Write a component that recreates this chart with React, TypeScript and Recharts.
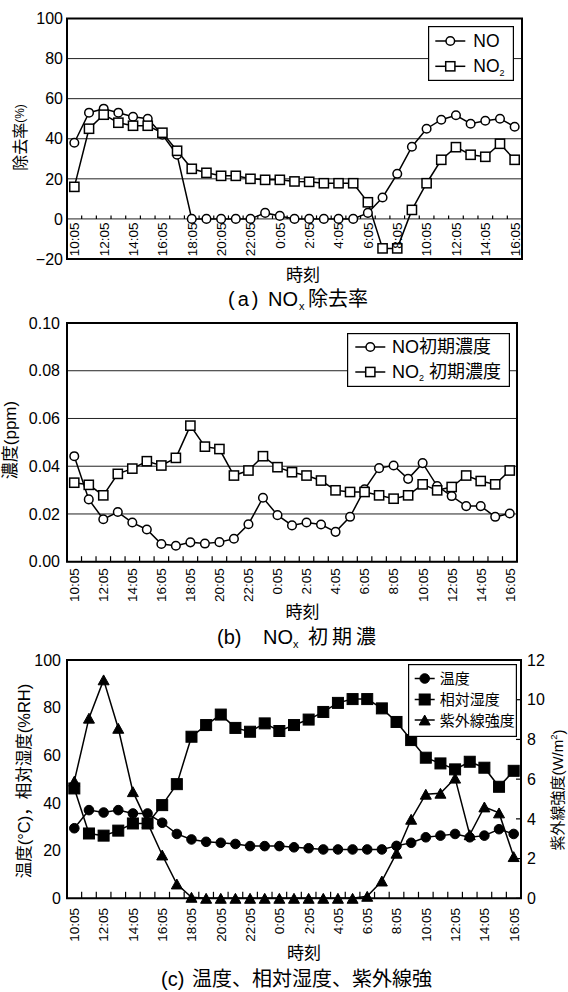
import React from 'react';
import { ComposedChart, Line, XAxis, YAxis, CartesianGrid, ReferenceArea, Legend } from 'recharts';

const FONT = "'Liberation Sans', Arial, 'Noto Sans CJK JP', sans-serif";

// hourly sampling times, 10:05 on day 1 to 16:05 on day 2
const timeLabels = [
  '10:05', '11:05', '12:05', '13:05', '14:05', '15:05', '16:05', '17:05', '18:05', '19:05',
  '20:05', '21:05', '22:05', '23:05', '0:05', '1:05', '2:05', '3:05', '4:05', '5:05',
  '6:05', '7:05', '8:05', '9:05', '10:05', '11:05', '12:05', '13:05', '14:05', '15:05', '16:05',
];

// (a) removal rate (%)
const noRemoval = [38, 53, 55, 53, 51, 50, 42, 32, 0, 0, 0, 0, 0, 3, 1.5, 0, 0, 0, 0, 0, 3, 10.7, 22.5, 36, 45, 49.5, 51.7, 47.5, 49, 50, 46];
const no2Removal = [16, 45, 52, 48, 46.5, 46.5, 43, 34, 25, 23, 21.5, 21.5, 20, 19.5, 19.5, 18.7, 18.5, 17.8, 17.8, 17.8, 8.3, -14.7, -14.7, 4.5, 17.8, 29.5, 35.8, 32, 31, 37.5, 29.5];

// (b) initial concentration (ppm)
const noInitial = [0.0442, 0.0261, 0.0178, 0.0208, 0.0164, 0.0135, 0.0074, 0.0067, 0.0081, 0.0076, 0.0082, 0.0096, 0.0157, 0.0268, 0.0195, 0.0152, 0.0164, 0.0156, 0.0125, 0.0188, 0.0303, 0.0392, 0.0403, 0.0347, 0.0413, 0.0317, 0.0275, 0.0233, 0.0233, 0.0188, 0.0202];
const no2Initial = [0.0331, 0.0322, 0.0278, 0.0368, 0.039, 0.0421, 0.0403, 0.0435, 0.057, 0.0482, 0.0472, 0.0361, 0.0382, 0.0442, 0.0396, 0.0375, 0.0361, 0.034, 0.0299, 0.0292, 0.0292, 0.0278, 0.0264, 0.0278, 0.0324, 0.0299, 0.0313, 0.0361, 0.0338, 0.0324, 0.0382];

// (c) weather
const temperature = [29.4, 37, 36, 37, 35.6, 35.6, 31.7, 27, 24.7, 23.7, 23.3, 22.8, 21.9, 21.9, 21.9, 21.4, 21, 20.5, 20.5, 20.5, 20.5, 20.5, 22, 23.3, 25.6, 26.3, 27, 25.6, 26.3, 29, 27];
const humidity = [46.1, 27.2, 26.3, 28.4, 31.4, 31.4, 39.1, 47.9, 67.8, 72.7, 77.1, 71.5, 69.9, 73.4, 70.2, 72.7, 75, 78.2, 82, 83.6, 83.6, 79.7, 74, 66.4, 59, 56.6, 54.1, 57.3, 54.8, 46.8, 53.5];
const uvIntensity = [5.9, 9.07, 11, 8.56, 5.37, 3.8, 2.18, 0.72, 0.05, 0, 0, 0, 0, 0, 0, 0, 0, 0, 0, 0, 0.1, 0.87, 2.27, 3.98, 5.24, 5.29, 6.05, 3.2, 4.6, 4.3, 2.1];

const ticksA = [-20, 0, 20, 40, 60, 80, 100];
const ticksB = [0, 0.02, 0.04, 0.06, 0.08, 0.1];
const ticksC = [0, 20, 40, 60, 80, 100];
const ticksUv = [0, 2, 4, 6, 8, 10, 12];

// labels on even hours, tick marks on the category boundaries
const timeTicks: number[] = [];
timeLabels.forEach((_, i) => {
  if (i % 2 === 0) timeTicks.push(i);
  if (i < timeLabels.length - 1) timeTicks.push(i + 0.5);
});
const xDomain: [number, number] = [-0.5, timeLabels.length - 0.5];

const rowsA = timeLabels.map((time, idx) => ({ idx, time, no: noRemoval[idx], no2: no2Removal[idx] }));
const rowsB = timeLabels.map((time, idx) => ({ idx, time, no: noInitial[idx], no2: no2Initial[idx] }));
const rowsC = timeLabels.map((time, idx) => ({ idx, time, temp: temperature[idx], rh: humidity[idx], uv: uvIntensity[idx] }));

type Shape = 'circle' | 'square' | 'triangle';

const MarkerShape = ({ cx, cy, shape, filled, size }: { cx: number; cy: number; shape: Shape; filled: boolean; size: number }) => {
  const fill = filled ? '#000' : '#fff';
  const sw = filled ? 1 : 1.5;
  if (shape === 'circle') return <circle cx={cx} cy={cy} r={size / 2} fill={fill} stroke="#000" strokeWidth={sw} />;
  if (shape === 'square')
    return <rect x={cx - size / 2} y={cy - size / 2} width={size} height={size} fill={fill} stroke="#000" strokeWidth={sw} />;
  const h = size * 0.9;
  return (
    <polygon
      points={`${cx},${cy - h / 2} ${cx + size / 2},${cy + h / 2} ${cx - size / 2},${cy + h / 2}`}
      fill={fill}
      stroke="#000"
      strokeWidth={sw}
    />
  );
};

const dotRenderer = (shape: Shape, filled: boolean, size: number) => (p: any) => {
  if (p.cx == null || p.cy == null) return <g key={p.index} />;
  return <MarkerShape key={p.index} cx={p.cx} cy={p.cy} shape={shape} filled={filled} size={size} />;
};

const TimeTick = (props: any) => {
  const { x, y, payload, lift = 0, tickLen = 4, gap = 4 } = props;
  const v = payload.value as number;
  const axisY = y - lift;
  if (!Number.isInteger(v)) {
    return <line x1={x} x2={x} y1={axisY} y2={axisY - tickLen} stroke="#000" strokeWidth={1.2} />;
  }
  const ty = axisY + gap;
  return (
    <text x={x} y={ty} transform={`rotate(-90 ${x} ${ty})`} textAnchor="end" dy="0.36em" fontSize={13.5} fontFamily={FONT} fill="#000">
      {timeLabels[v]}
    </text>
  );
};

interface LegendItem {
  label: React.ReactNode;
  shape: Shape;
  filled: boolean;
  size: number;
}

const LegendBox = ({ items, width, height, rows, line, textX, fontSize }: {
  items: LegendItem[]; width: number; height: number; rows: number[]; line: [number, number]; textX: number; fontSize: number;
}) => (
  <svg width={width} height={height} style={{ display: 'block' }}>
    <rect x={0.6} y={0.6} width={width - 1.2} height={height - 1.2} fill="#fff" stroke="#000" strokeWidth={1.2} />
    {items.map((it, k) => (
      <g key={k}>
        <line x1={line[0]} x2={line[1]} y1={rows[k]} y2={rows[k]} stroke="#000" strokeWidth={1.5} />
        <MarkerShape cx={(line[0] + line[1]) / 2} cy={rows[k]} shape={it.shape} filled={it.filled} size={it.size} />
        <text x={textX} y={rows[k]} dominantBaseline="central" fontSize={fontSize} fontFamily={FONT} fill="#000">
          {it.label}
        </text>
      </g>
    ))}
  </svg>
);

const yTick = { fill: '#000', fontSize: 16, fontFamily: FONT };
const fmtA = (v: number) => (v < 0 ? `\u2212${Math.abs(v)}` : String(v));
const fmtB = (v: number) => v.toFixed(2);

const ChartA = () => (
  <ComposedChart width={568} height={300} data={rowsA} margin={{ top: 18.5, right: 46, bottom: 0, left: 0 }}>
    <CartesianGrid horizontal vertical={false} stroke="#222" />
    <XAxis
      type="number" dataKey="idx" domain={xDomain} ticks={timeTicks} interval={0} height={41}
      axisLine={false} tickLine={false} tickSize={0} tickMargin={0}
      tick={(p: any) => <TimeTick {...p} lift={40.1} tickLen={3.5} gap={3.5} />}
    />
    <YAxis
      type="number" domain={[-20, 100]} ticks={ticksA} interval={0} width={67}
      axisLine={false} tickLine={false} tickSize={0} tickMargin={4} tick={yTick} tickFormatter={fmtA}
    />
    <ReferenceArea x1={xDomain[0]} x2={xDomain[1]} y1={-20} y2={100} fill="none" stroke="#000" strokeWidth={2} fillOpacity={0} />
    <Line type="linear" dataKey="no" stroke="#000" strokeWidth={1.5} dot={dotRenderer('circle', false, 8.6)} activeDot={false} isAnimationActive={false} />
    <Line type="linear" dataKey="no2" stroke="#000" strokeWidth={1.5} dot={dotRenderer('square', false, 9.2)} activeDot={false} isAnimationActive={false} />
    <Legend
      layout="vertical" align="center" verticalAlign="middle"
      wrapperStyle={{ left: 427.7, top: 25.7, width: 86, height: 55, lineHeight: 0 }}
      content={() => (
        <LegendBox
          width={86} height={55} rows={[15, 40.3]} line={[7.3, 37.3]} textX={45.3} fontSize={17.5}
          items={[
            { label: 'NO', shape: 'circle', filled: false, size: 8.6 },
            { label: <>NO<tspan fontSize={9} dy={7}>2</tspan></>, shape: 'square', filled: false, size: 9.2 },
          ]}
        />
      )}
    />
  </ComposedChart>
);

const ChartB = () => (
  <ComposedChart width={568} height={300} data={rowsB} margin={{ top: 18, right: 51, bottom: 0, left: 0 }}>
    <CartesianGrid horizontal vertical={false} stroke="#222" />
    <XAxis
      type="number" dataKey="idx" domain={xDomain} ticks={timeTicks} interval={0} height={43.3}
      axisLine={false} tickLine={false} tickSize={0} tickMargin={0}
      tick={(p: any) => <TimeTick {...p} lift={0} tickLen={5.5} gap={6.6} />}
    />
    <YAxis
      type="number" domain={[0, 0.1]} ticks={ticksB} interval={0} width={67}
      axisLine={false} tickLine={false} tickSize={0} tickMargin={7} tick={yTick} tickFormatter={fmtB}
    />
    <ReferenceArea x1={xDomain[0]} x2={xDomain[1]} y1={0} y2={0.1} fill="none" stroke="#000" strokeWidth={2} fillOpacity={0} />
    <Line type="linear" dataKey="no" stroke="#000" strokeWidth={1.5} dot={dotRenderer('circle', false, 8.6)} activeDot={false} isAnimationActive={false} />
    <Line type="linear" dataKey="no2" stroke="#000" strokeWidth={1.5} dot={dotRenderer('square', false, 9.2)} activeDot={false} isAnimationActive={false} />
    <Legend
      layout="vertical" align="center" verticalAlign="middle"
      wrapperStyle={{ left: 346.7, top: 27.7, width: 163, height: 54, lineHeight: 0 }}
      content={() => (
        <LegendBox
          width={163} height={54} rows={[14, 39]} line={[8.3, 38.3]} textX={45} fontSize={18}
          items={[
            { label: 'NO初期濃度', shape: 'circle', filled: false, size: 8.6 },
            { label: <>NO<tspan fontSize={9} dy={6}>2</tspan><tspan dy={-6} dx={5}>初期濃度</tspan></>, shape: 'square', filled: false, size: 9.2 },
          ]}
        />
      )}
    />
  </ComposedChart>
);

const ChartC = () => (
  <ComposedChart width={568} height={300} data={rowsC} margin={{ top: 15, right: 0, bottom: 0, left: 0 }}>
    <XAxis
      type="number" dataKey="idx" domain={xDomain} ticks={timeTicks} interval={0} height={46.7}
      axisLine={false} tickLine={false} tickSize={0} tickMargin={0}
      tick={(p: any) => <TimeTick {...p} lift={0} tickLen={6.5} gap={9.7} />}
    />
    <YAxis
      yAxisId="left" type="number" domain={[0, 100]} ticks={ticksC} interval={0} width={67}
      axisLine={false} tickLine={false} tickSize={0} tickMargin={6} tick={yTick}
    />
    <YAxis
      yAxisId="uv" orientation="right" type="number" domain={[0, 12]} ticks={ticksUv} interval={0} width={47}
      axisLine={false} tickLine={{ stroke: '#000', strokeWidth: 1.2 }} tickSize={-5} tickMargin={11} tick={yTick}
    />
    <ReferenceArea yAxisId="left" x1={xDomain[0]} x2={xDomain[1]} y1={0} y2={100} fill="none" stroke="#000" strokeWidth={2} fillOpacity={0} />
    <Line yAxisId="uv" type="linear" dataKey="uv" stroke="#000" strokeWidth={1.5} dot={dotRenderer('triangle', true, 11)} activeDot={false} isAnimationActive={false} />
    <Line yAxisId="left" type="linear" dataKey="temp" stroke="#000" strokeWidth={1.5} dot={dotRenderer('circle', true, 9.6)} activeDot={false} isAnimationActive={false} />
    <Line yAxisId="left" type="linear" dataKey="rh" stroke="#000" strokeWidth={1.5} dot={dotRenderer('square', true, 11)} activeDot={false} isAnimationActive={false} />
    <Legend
      layout="vertical" align="center" verticalAlign="middle"
      wrapperStyle={{ left: 408.3, top: 19, width: 109, height: 73, lineHeight: 0 }}
      content={() => (
        <LegendBox
          width={109} height={73} rows={[14.5, 35.5, 56]} line={[6.7, 26.7]} textX={31.7} fontSize={15}
          items={[
            { label: '温度', shape: 'circle', filled: true, size: 9.6 },
            { label: '相対湿度', shape: 'square', filled: true, size: 11 },
            { label: '紫外線強度', shape: 'triangle', filled: true, size: 11 },
          ]}
        />
      )}
    />
  </ComposedChart>
);

const Texts = () => (
  <svg width={568} height={992} fontFamily={FONT} fill="#000" style={{ position: 'absolute', left: 0, top: 0, pointerEvents: 'none' }}>
    {/* (a) */}
    <text transform="translate(20 137.5) rotate(-90)" textAnchor="middle" dominantBaseline="central" fontSize={16}>
      除去率<tspan fontSize={12}>(%)</tspan>
    </text>
    <text x={303} y={275.5} textAnchor="middle" dominantBaseline="central" fontSize={17}>時刻</text>
    <text y={299} dominantBaseline="central" fontSize={20}>
      <tspan x={228} letterSpacing={3}>(a)</tspan>
      <tspan x={268}>NO</tspan>
      <tspan x={299} fontSize={11} dy={7}>x</tspan>
      <tspan x={308} dy={-7}>除去率</tspan>
    </text>

    {/* (b) */}
    <text transform="translate(10 440) rotate(-90)" textAnchor="middle" dominantBaseline="central" fontSize={17}>濃度(ppm)</text>
    <text x={302.5} y={612.5} textAnchor="middle" dominantBaseline="central" fontSize={17}>時刻</text>
    <text y={637} dominantBaseline="central" fontSize={20}>
      <tspan x={217}>(b)</tspan>
      <tspan x={263}>NO</tspan>
      <tspan x={293} fontSize={11} dy={7}>x</tspan>
      <tspan x={308} dy={-7}>初</tspan>
      <tspan x={332}>期</tspan>
      <tspan x={356}>濃</tspan>
    </text>

    {/* (c) */}
    <text transform="translate(23.5 781) rotate(-90)" textAnchor="middle" dominantBaseline="central" fontSize={16.5}>
      温度(°C)，相対湿度(%RH)
    </text>
    <text transform="translate(557.5 790) rotate(-90)" textAnchor="middle" dominantBaseline="central" fontSize={15}>
      紫外線強度(W/m<tspan fontSize={9.5} dy={-5}>2</tspan><tspan dy={5}>)</tspan>
    </text>
    <text x={304} y={953.5} textAnchor="middle" dominantBaseline="central" fontSize={17}>時刻</text>
    <text y={979} dominantBaseline="central" fontSize={20}>
      <tspan x={161}>(c)</tspan>
      <tspan x={192}>温度、相対湿度、紫外線強</tspan>
    </text>
  </svg>
);

const App = () => (
  <div style={{ position: 'absolute', left: 0, top: 0, width: 568, height: 992, background: '#fff', fontFamily: FONT, overflow: 'hidden' }}>
    <div style={{ position: 'absolute', left: 0, top: 0 }}>
      <ChartA />
    </div>
    <div style={{ position: 'absolute', left: 0, top: 305 }}>
      <ChartB />
    </div>
    <div style={{ position: 'absolute', left: 0, top: 645 }}>
      <ChartC />
    </div>
    <Texts />
  </div>
);

export default App;
